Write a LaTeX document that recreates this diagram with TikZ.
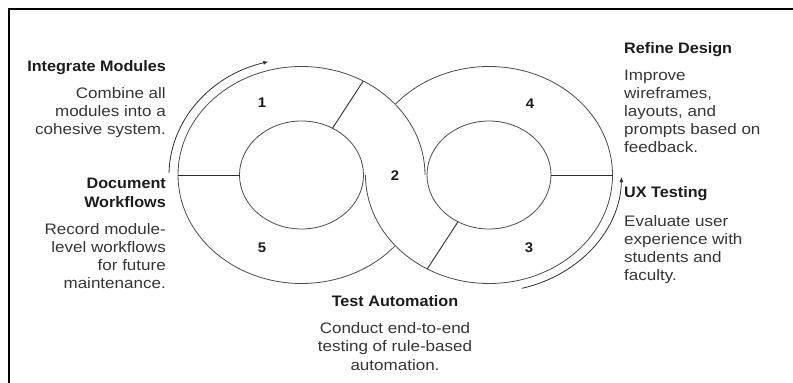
\documentclass[tikz,border=0pt]{standalone}
\usepackage{fontspec}
\setmainfont[FakeStretch=1.065]{Liberation Sans}
\newfontfamily\bodyfont[FakeStretch=1.12]{Liberation Sans}
\usetikzlibrary{arrows.meta}
\definecolor{ringline}{HTML}{4A4A4A}
\definecolor{divline}{HTML}{2E2E2E}
\definecolor{headc}{HTML}{1C1C1C}
\definecolor{bodyc}{HTML}{353535}
\tikzset{
  ring/.style={draw=ringline, line width=0.8pt},
  divider/.style={draw=divline, line width=0.9pt},
  cyclearrow/.style={draw=divline, line width=0.8pt, -{Latex[length=5pt,width=4pt]}},
  head/.style={inner sep=0pt, text=headc, font=\fontsize{15.2}{19}\selectfont\bfseries},
  body/.style={inner sep=0pt, text=bodyc, font=\bodyfont\fontsize{15.2}{18}\selectfont},
  num/.style={inner sep=0pt, text=headc, font=\fontsize{14}{16}\selectfont\bfseries},
}
\begin{document}
\begin{tikzpicture}[x=1pt, y=1pt]
\useasboundingbox (0,0) rectangle (793,383);
% outer frame
\draw[line width=2pt] (9,0) -- (9,374) -- (793,374);

% ring centres
\coordinate (L) at (301.5,208);
\coordinate (R) at (489,208);

% inner ellipses
\draw[ring] (L) ellipse [x radius=62, y radius=54];
\draw[ring] (R) ellipse [x radius=62, y radius=54];

% outer ellipses, each open where it passes through the other ring
\draw[ring] ([shift={(0:123.5 and 108.5)}]L)
  arc [start angle=0, end angle=319.38, x radius=123.5, y radius=108.5];
\draw[ring] ([shift={(180:123.5 and 108.5)}]R)
  arc [start angle=180, end angle=499.38, x radius=123.5, y radius=108.5];

% segment dividers
\draw[divider] ([shift={(180:62 and 54)}]L) -- ([shift={(180:123.5 and 108.5)}]L);
\draw[divider] ([shift={(60:62 and 54)}]L) -- ([shift={(60:123.5 and 108.5)}]L);
\draw[divider] ([shift={(0:62 and 54)}]R) -- ([shift={(0:123.5 and 108.5)}]R);
\draw[divider] ([shift={(240:62 and 54)}]R) -- ([shift={(240:123.5 and 108.5)}]R);

% direction arrows
\draw[cyclearrow] ([shift={(179:132.5 and 117)}]L)
  arc [start angle=179, end angle=104.5, x radius=132.5, y radius=117];
\draw[cyclearrow] ([shift={(-75.6:132.5 and 117)}]R)
  arc [start angle=-75.6, end angle=-1, x radius=132.5, y radius=117];

% segment numbers
\node[num] (n1) at (262,280) {1};
\node[num] (n2) at (395,207) {2};
\node[num] (n3) at (529,135) {3};
\node[num] (n4) at (530,279) {4};
\node[num] (n5) at (262,135) {5};

% step descriptions (multi-line nodes are anchored on their last baseline)
\node[head, anchor=base east] (t1) at (166,311) {Integrate Modules};
\node[body, anchor=base east, align=right] (d1) at (166,248)
  {Combine all\\modules into a\\cohesive system.};

\node[head, anchor=base east, align=right] (t5) at (166,175) {Document\\Workflows};
\node[body, anchor=base east, align=right] (d5) at (166,94)
  {Record module-\\level workflows\\for future\\maintenance.};

\node[head, anchor=base west] (t4) at (624,329) {Refine Design};
\node[body, anchor=base west, align=left] (d4) at (624,230)
  {Improve\\wireframes,\\layouts, and\\prompts based on\\feedback.};

\node[head, anchor=base west] (t3) at (624,185) {UX Testing};
\node[body, anchor=base west, align=left] (d3) at (624,102)
  {Evaluate user\\experience with\\students and\\faculty.};

\node[head, anchor=base] (t2) at (395,76) {Test Automation};
\node[body, anchor=base, align=center] (d2) at (395,13)
  {Conduct end-to-end\\testing of rule-based\\automation.};
\end{tikzpicture}
\end{document}
